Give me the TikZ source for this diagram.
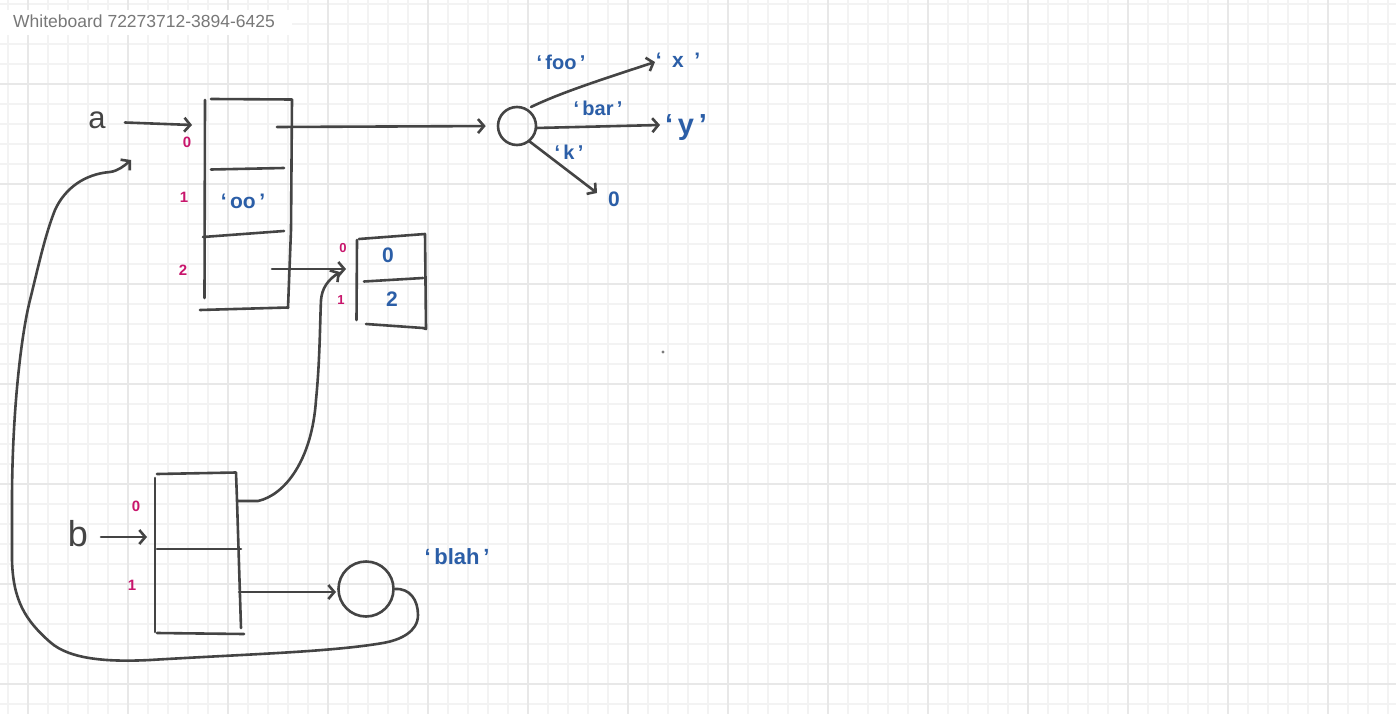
\documentclass[tikz,border=0pt]{standalone}
\usepackage{fontspec}
\setmainfont{Liberation Sans}
\usetikzlibrary{arrows.meta}
\definecolor{ink}{HTML}{444444}
\definecolor{inkblue}{HTML}{2B5EA7}
\definecolor{inkpink}{HTML}{C8156C}
\definecolor{gridminor}{HTML}{F3F3F3}
\definecolor{gridmajor}{HTML}{E8E8E8}
\definecolor{titlegray}{HTML}{787878}
\begin{document}
\begin{tikzpicture}[x=1pt,y=-1pt,
  pen/.style={draw=ink,line width=2.6pt,line cap=round,line join=round},
  arr/.style={pen,-{Straight Barb[length=6pt,width=14pt,line width=2.6pt]}},
  idx/.style={text=inkpink,inner sep=0pt,font=\bfseries\fontsize{15}{15}\selectfont},
  sidx/.style={text=inkpink,inner sep=0pt,font=\bfseries\fontsize{13}{13}\selectfont},
  val/.style={text=inkblue,inner sep=0pt,font=\bfseries\fontsize{21}{21}\selectfont},
  keyl/.style={text=inkblue,inner sep=0pt,font=\bfseries\fontsize{20}{20}\selectfont},
  var/.style={text=ink,inner sep=0pt},
  objc/.style={circle,pen,inner sep=0pt},
  minorline/.style={draw=gridminor,line width=1.4pt},
  majorline/.style={draw=gridmajor,line width=1.8pt},
]
\useasboundingbox (0,0) rectangle (1396,714);
\fill[white] (0,0) rectangle (1396,714);
% grid
\foreach \x in {8,28,...,1388} \draw[minorline] (\x,0) -- (\x,714);
\foreach \y in {4,24,...,704} \draw[minorline] (0,\y) -- (1396,\y);
\foreach \x in {28,128,...,1328} \draw[majorline] (\x,0) -- (\x,714);
\foreach \y in {84,184,...,684} \draw[majorline] (0,\y) -- (1396,\y);
% title
\fill[white] (0,10) rectangle (292,35);
\node[anchor=west,text=titlegray,inner sep=0pt,font=\fontsize{17.5}{17.5}\selectfont] (title) at (13,21) {Whiteboard 72273712-3894-6425};

% ---------- array a ----------
\draw[pen] (205,100) -- (204.5,298);
\draw[pen] (211,99) -- (292,99.5) -- (291,230) -- (288,308);
\draw[pen] (200,310) -- (288,307.5);
\draw[pen] (211,169.5) -- (284,168);
\draw[pen] (203,237) -- (284,231);
\node[idx] (ai0) at (187,142) {0};
\node[idx] (ai1) at (184,197) {1};
\node[idx] (ai2) at (183,270) {2};
\node[val] (aval1) at (243,201) {`\,oo\,'};
\coordinate (a0) at (277,127);
\coordinate (a2) at (272,269);

% variable a
\node[var,font=\fontsize{31}{31}\selectfont] (va) at (97,120) {a};
\coordinate (vaS) at (125,122.5);
\coordinate (vaT) at (192,125);
\draw[arr] (vaS) -- (vaT);

% ---------- dict object ----------
\node[objc,minimum size=38pt] (o1) at (517,126) {};
\draw[arr,shorten >=11pt] (a0) -- (o1.west);
\node[val] (vx) at (678,60) {`\enspace x\enspace'};
\node[val,font=\bfseries\fontsize{29}{29}\selectfont] (vy) at (686,128) {`\,y\,'};
\node[val,font=\bfseries\fontsize{21}{21}\selectfont] (vz) at (614,199) {0};
\coordinate (o1a) at (531,107);
\coordinate (o1b) at (536,128);
\coordinate (o1c) at (529,141);
\coordinate (txS) at (655,62);
\coordinate (tyS) at (660,125);
\coordinate (tzS) at (597,193);
\draw[arr] (o1a) .. controls (560,93) and (600,80) .. (txS);
\draw[arr] (o1b) -- (tyS);
\draw[arr] (o1c) -- (tzS);
\node[keyl] (kfoo) at (561,62) {`\,foo\,'};
\node[keyl] (kbar) at (598,108) {`\,bar\,'};
\node[keyl] (kk) at (569,152) {`\,k\,'};

% ---------- small list ----------
\draw[pen] (357,240) -- (356.5,320);
\draw[pen] (359,239) -- (425,234) -- (426,329) -- (423,328) -- (366,324);
\draw[pen] (364,281.5) -- (423,278);
\node[sidx] (si0) at (343,248) {0};
\node[sidx] (si1) at (341,300) {1};
\node[val] (sv0) at (388,255) {0};
\node[val] (sv1) at (392,299) {2};
\coordinate (sT1) at (346,269);
\coordinate (sT2) at (340,272);
\draw[arr] (a2) -- (sT1);

% ---------- array b ----------
\draw[pen] (155,478) -- (155,632);
\draw[pen] (157,474) -- (236,472.5) -- (237,500) -- (241,628);
\draw[pen] (157,549) -- (241,549);
\draw[pen] (157,633) -- (244,634);
\node[idx] (bi0) at (136,506) {0};
\node[idx] (bi1) at (132,585) {1};
\coordinate (b0) at (238,501);
\coordinate (b1) at (239,592);

% variable b
\node[var,font=\fontsize{36}{36}\selectfont] (vb) at (78,534) {b};
\coordinate (vbS) at (101,537);
\coordinate (vbT) at (147,537);
\draw[arr] (vbS) -- (vbT);

% string object
\node[objc,minimum size=55pt] (o2) at (366,589) {};
\node[keyl,font=\bfseries\fontsize{22}{22}\selectfont] (vblah) at (457,557) {`\,blah\,'};
\coordinate (o2in) at (336,592);
\draw[arr] (b1) -- (o2in);

% b[0] -> small list
\draw[arr] (b0) -- (258,501) .. controls (285,495) and (312,460) .. (316,400)
  .. controls (320,360) and (320,320) .. (321,300)
  .. controls (322,288) and (328,280) .. (sT2);

% loop from string object back to a
\coordinate (aRef) at (131,160);
\draw[arr] (o2.east) .. controls (410,588) and (418,600) .. (418,615)
  .. controls (418,632) and (400,640) .. (383,643)
  .. controls (330,652) and (250,654) .. (150,660)
  .. controls (110,662) and (70,660) .. (50,642)
  .. controls (25,620) and (13,600) .. (12,560)
  -- (12,501)
  .. controls (12,420) and (20,340) .. (30,300)
  .. controls (38,268) and (45,235) .. (55,210)
  .. controls (65,188) and (85,174) .. (110,172)
  .. controls (118,171) and (124,166) .. (aRef);

% stray dot
\fill[ink!70] (663,352) circle (1.6);
\end{tikzpicture}
\end{document}
